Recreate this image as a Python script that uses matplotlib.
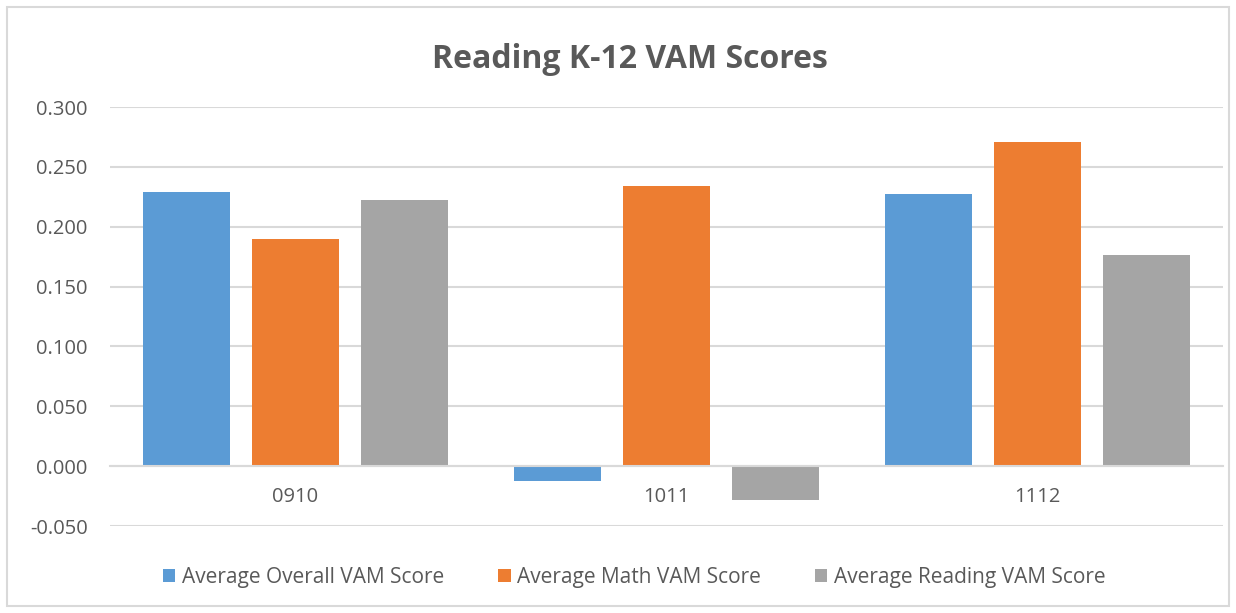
import numpy as np
import matplotlib.pyplot as plt
from matplotlib.patches import Rectangle

# Data
years = ['0910', '1011', '1112']
overall = [0.229, -0.012, 0.227]
math_scores = [0.190, 0.234, 0.271]
reading = [0.222, -0.028, 0.176]

series_names = ['Average Overall VAM Score', 'Average Math VAM Score', 'Average Reading VAM Score']
colors = ['#5B9BD5', '#ED7D31', '#A5A5A5']

plt.rcParams['font.family'] = ['Open Sans', 'DejaVu Sans']

fig = plt.figure(figsize=(12.36, 6.13), dpi=100)
ax = fig.add_axes([0.089, 0.1419, 0.9005, 0.6835])

x = np.arange(len(years))
step = 0.294
width = 0.2345
for i, (vals, name, c) in enumerate(zip([overall, math_scores, reading], series_names, colors)):
    ax.bar(x + (i - 1) * step, vals, width, color=c, label=name, zorder=3)

ax.set_xlim(-0.5, 2.5)
ax.set_ylim(-0.05, 0.3)
ax.set_yticks(np.arange(-0.05, 0.301, 0.05))
ax.set_yticklabels([f'{v:.3f}' for v in np.arange(-0.05, 0.301, 0.05)])
ax.set_xticks(x)
ax.set_xticklabels(years)

ax.grid(axis='y', color='#D9D9D9', linewidth=1.5, zorder=0)
for s in ['top', 'right', 'left']:
    ax.spines[s].set_visible(False)
ax.spines['bottom'].set_position(('data', 0))
ax.spines['bottom'].set_color('#D9D9D9')
ax.spines['bottom'].set_linewidth(1.5)
ax.spines['bottom'].set_zorder(4)
ax.tick_params(axis='both', length=0, labelsize=14.5, labelcolor='#595959')
ax.tick_params(axis='x', pad=15)
ax.tick_params(axis='y', pad=16)

fig.suptitle('Reading K-12 VAM Scores', x=0.51, y=0.93, fontsize=23,
             fontweight='bold', color='#595959')

fig.legend(loc='center', bbox_to_anchor=(0.513, 0.0587), ncol=3, frameon=False,
           fontsize=15, labelcolor='#595959', handlelength=0.6, handleheight=0.6,
           handletextpad=0.3, columnspacing=2.6)

# chart border
fig.patches.append(Rectangle((7 / 1236, 7 / 613), 1 - 14 / 1236, 1 - 14 / 613,
                             transform=fig.transFigure, fill=False,
                             edgecolor='#D9D9D9', linewidth=1.5))

plt.savefig('out.png', dpi=100)
